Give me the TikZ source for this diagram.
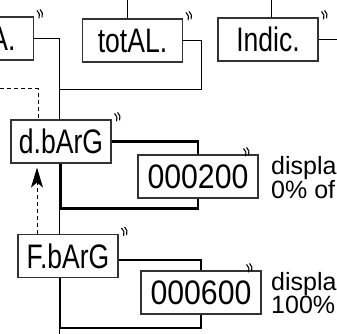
\documentclass[tikz,border=0pt]{standalone}
\usepackage{fontspec}
\setmainfont{Liberation Sans}
\newfontfamily\lblfont[FakeStretch=0.78]{Liberation Sans}
\newfontfamily\numfont[FakeStretch=0.89]{Liberation Sans}
\usetikzlibrary{arrows.meta}

\begin{document}
\begin{tikzpicture}[x=1pt, y=-1pt,
	lbl/.style={draw=black!80, line width=1.1pt, minimum width=100pt, minimum height=43pt, inner sep=0pt, font=\lblfont\fontsize{34}{38}\selectfont},
	val/.style={lbl, minimum width=120pt, font=\numfont\fontsize{34}{38}\selectfont},
	side/.style={anchor=west, inner sep=0pt, align=left, font=\fontsize{25}{20}\selectfont},
	wire/.style={line width=1pt},
	heavy/.style={line width=2.6pt},
	retline/.style={line width=1pt, dash pattern=on 4pt off 3pt},
	blink/.pic={\draw[line width=1.1pt] (3,-6) to[bend left=35] (5,2) (6,-7) to[bend left=35] (8,1);},
	>={Stealth[length=20pt, width=12pt, inset=5pt]}]
	\useasboundingbox (0,0) rectangle (337,334);
	\clip (0,0) rectangle (337,334);
	\node[lbl, anchor=east, text width=64pt, align=right] (parta) at (34,38.5) {A.};
	\node[lbl] (tot) at (132.5,40.5) {totAL.};
	\node[lbl] (ind) at (268,39.5) {Indic.};
	\node[lbl] (dbarg) at (61,141.5) {d.bArG};
	\node[val] (v200) at (198,176.5) {000200};
	\node[lbl] (fbarg) at (68,256) {F.bArG};
	\node[val] (v600) at (201,292.5) {000600};
	\node[side] (txt200) at (271,177.5) {displa\\0\% of};
	\node[side] (txt600) at (271,293) {displa\\100\%};
	\foreach \n in {parta,tot,ind,dbarg,fbarg} \pic at (\n.north east) {blink};
	\foreach \n in {v200,v600} \pic at ([xshift=-18pt]\n.north east) {blink};
	\coordinate (spine) at (59,38.5);
	\coordinate (join) at (59,90);
	\coordinate (spineend) at (59,334);
	\coordinate (totin) at (127,0);
	\coordinate (indin) at (271,0);
	\coordinate (indout) at (337,39.5);
	\coordinate (retin) at (0,89);
	\coordinate (retup) at ([xshift=-31pt]fbarg.north);
	\draw[wire] (totin) -- (totin |- tot.north);
	\draw[wire] (indin) -- (indin |- ind.north);
	\draw[wire] (ind.east) -- (indout);
	\draw[wire] (parta.east) -- (spine) -- (spine |- dbarg.north);
	\draw[wire] (tot.east) -- ++(18,0) |- (join);
	\draw[wire] (spine |- dbarg.south) -- (spine |- fbarg.north);
	\draw[wire] (spine |- fbarg.south) -- (spineend);
	\draw[retline] (retin) -| ([xshift=-23pt]dbarg.north);
	\draw[retline, ->, shorten >=4pt] (retup) -- (retup |- dbarg.south);
	\draw[heavy] (dbarg.east) -| (v200.north);
	\draw[heavy] (dbarg.south) -- ++(0,45) -| (v200.south);
	\draw[heavy] ([yshift=-4pt]fbarg.east) -| (v600.north);
	\draw[heavy] ([xshift=-8pt]fbarg.south) -- ++(0,50) -| (v600.south);
\end{tikzpicture}
\end{document}
